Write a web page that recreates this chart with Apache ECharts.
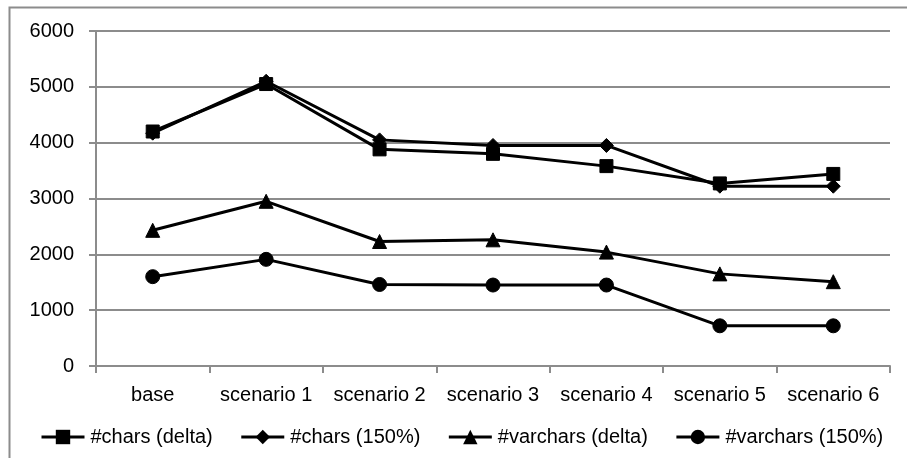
<!DOCTYPE html>
<html>
<head>
<meta charset="utf-8">
<script src="https://cdn.jsdelivr.net/npm/echarts@6/dist/echarts.min.js"></script>
<style>
html,body{margin:0;padding:0;background:#fff;}
#c{width:907px;height:458px;}
</style>
</head>
<body>
<div id="c"></div>
<script>
var categories = ['base','scenario 1','scenario 2','scenario 3','scenario 4','scenario 5','scenario 6'];
var charsDelta = [4200, 5050, 3880, 3800, 3580, 3270, 3440];
var chars150 = [4170, 5100, 4050, 3950, 3950, 3220, 3220];
var varcharsDelta = [2430, 2950, 2230, 2260, 2040, 1650, 1510];
var varchars150 = [1600, 1910, 1460, 1450, 1450, 720, 720];
var seriesNames = ['#chars (delta)', '#chars (150%)', '#varchars (delta)', '#varchars (150%)'];
var yTicks = {min: 0, max: 6000, interval: 1000};

var FONT = 'Liberation Sans, Arial, sans-serif';
var GRAY = '#8c8c8c';
function mk(name, data, symbol, size) {
  return {
    name: name, type: 'line', data: data, symbol: symbol, symbolSize: size,
    showAllSymbol: true,
    lineStyle: {color: '#000', width: 3},
    itemStyle: {color: '#000', borderColor: '#000'},
    emphasis: {disabled: true}, animation: false
  };
}
var chart = echarts.init(document.getElementById('c'));
chart.setOption({
  animation: false,
  textStyle: {fontFamily: FONT},
  graphic: [{
    type: 'rect', left: 7, top: 5,
    shape: {x: 0, y: 0, width: 920, height: 480},
    style: {fill: 'none', stroke: GRAY, lineWidth: 2}, silent: true, z: -1
  }],
  grid: {left: 96, right: 17, top: 31, bottom: 92},
  legend: {
    left: 35, top: 422, itemWidth: 43, itemHeight: 18, itemGap: 27,
    data: seriesNames,
    lineStyle: {width: 3},
    textStyle: {fontFamily: FONT, fontSize: 20, color: '#000', padding: [0, 0, 0, 1]}
  },
  xAxis: {
    type: 'category', data: categories, boundaryGap: true,
    axisLine: {lineStyle: {color: GRAY, width: 2}},
    axisTick: {show: true, interval: 0, length: 7, lineStyle: {color: GRAY, width: 2}},
    axisLabel: {interval: 0, margin: 19, color: '#000', fontSize: 20, fontFamily: FONT},
    splitLine: {show: false}
  },
  yAxis: {
    type: 'value', min: yTicks.min, max: yTicks.max, interval: yTicks.interval,
    axisLine: {show: true, lineStyle: {color: GRAY, width: 2}},
    axisTick: {show: true, length: 7, lineStyle: {color: GRAY, width: 2}},
    axisLabel: {margin: 22, color: '#000', fontSize: 20, fontFamily: FONT,
      formatter: function (v) { return String(v); }},
    splitLine: {show: true, lineStyle: {color: GRAY, width: 2}}
  },
  series: [
    mk(seriesNames[0], charsDelta, 'rect', 13),
    mk(seriesNames[1], chars150, 'diamond', 14),
    mk(seriesNames[2], varcharsDelta, 'triangle', 14),
    mk(seriesNames[3], varchars150, 'circle', 14)
  ]
});
</script>
</body>
</html>
